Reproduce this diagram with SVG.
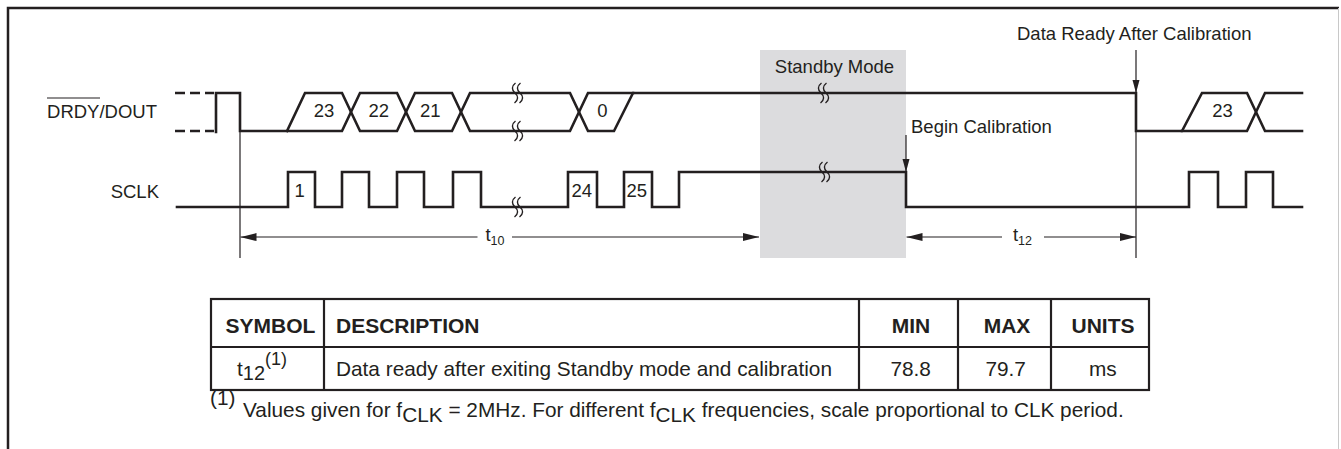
<svg xmlns="http://www.w3.org/2000/svg" width="1341" height="449" viewBox="0 0 1341 449">
<style>
.w{fill:none;stroke:#231f20;stroke-width:2.6;stroke-linejoin:miter;stroke-linecap:square}
.dash{fill:none;stroke:#231f20;stroke-width:2.6;stroke-dasharray:10 5}
.thin{fill:none;stroke:#231f20;stroke-width:1.2}
.brk{fill:none;stroke:#231f20;stroke-width:1.4}
.tx{font-family:"Liberation Sans",Arial,sans-serif;font-size:18.5px;fill:#231f20}
.tt{font-family:"Liberation Sans",Arial,sans-serif;font-size:20.8px;fill:#231f20}
.th{font-family:"Liberation Sans",Arial,sans-serif;font-size:21px;font-weight:bold;fill:#231f20}
.grid{fill:none;stroke:#231f20;stroke-width:2.2}
.mid{text-anchor:middle}
.end{text-anchor:end}
</style>
<defs>
<marker id="ah" markerUnits="userSpaceOnUse" markerWidth="16" markerHeight="8" viewBox="0 0 16 8" refX="16" refY="4" orient="auto-start-reverse">
<path d="M0,0 L16,4 L0,8 z" fill="#231f20"/>
</marker>
<marker id="av" markerUnits="userSpaceOnUse" markerWidth="13" markerHeight="8" viewBox="0 0 13 8" refX="13" refY="4" orient="auto">
<path d="M0,0.5 L13,4 L0,7.5 z" fill="#231f20"/>
</marker>
<g id="brkS">
<path class="brk" d="M0.5,-10 C-3.5,-7 -3.5,-3 0,0 C3.5,3 3.5,7 -0.5,10"/>
<path class="brk" d="M5.5,-10 C1.5,-7 1.5,-3 5,0 C8.5,3 8.5,7 4.5,10"/>
</g>
</defs>
<rect width="1341" height="449" fill="#ffffff"/>
<g id="frame">
<path d="M8,449 V8 H1339" fill="none" stroke="#231f20" stroke-width="2.5"/>
<line x1="1338.5" y1="8" x2="1338.5" y2="449" stroke="#c8c8c8" stroke-width="1"/>
</g>
<g id="standby">
<rect x="760" y="50" width="146" height="208" fill="#dcdcde"/>
<text class="tx mid" x="834.5" y="73">Standby Mode</text>
</g>
<g id="signal-labels">
<text class="tx end" x="157" y="117.5">DRDY/DOUT</text>
<line x1="47" y1="98" x2="100" y2="98" stroke="#231f20" stroke-width="1.2"/>
<text class="tx end" x="159" y="198">SCLK</text>
</g>
<g id="signal-drdy">
<path class="dash" d="M175,93 H214"/>
<path class="dash" d="M175,131 H214"/>
<path class="w" d="M216,132 V93 H240 V131 H342 L360,93 H397 L415,131 H452 L470,93 H570 L588,131 H614 L633,93 H1136 V131 H1182 L1202,93 H1247 L1265,131 H1302"/>
<path class="w" d="M287,131 L305,93 H342 L360,131 H397 L415,93 H452 L470,131 H570 L588,93 H633"/>
<path class="w" d="M1182,131 H1247 L1265,93 H1302"/>
<use href="#brkS" x="515" y="93"/>
<use href="#brkS" x="515" y="131"/>
<use href="#brkS" x="821" y="93"/>
<text class="tx mid" x="324" y="117">23</text>
<text class="tx mid" x="378.7" y="117">22</text>
<text class="tx mid" x="430.3" y="117">21</text>
<text class="tx mid" x="602.5" y="117">0</text>
<text class="tx mid" x="1222.5" y="117">23</text>
</g>
<g id="signal-sclk">
<path class="w" d="M177,207 H288 V172 H315 V207 H342 V172 H369 V207 H397 V172 H424 V207 H453 V172 H481 V207 H568 V172 H597 V207 H624 V172 H652 V207 H679 V172 H906 V207 H1189 V172 H1218 V207 H1246 V172 H1273 V207 H1302"/>
<use href="#brkS" x="515" y="207"/>
<use href="#brkS" x="822" y="172"/>
<text class="tx" x="294.5" y="197">1</text>
<text class="tx" x="571.5" y="197">24</text>
<text class="tx" x="626.5" y="197">25</text>
</g>
<g id="connectors">
<line class="thin" x1="240" y1="131" x2="240" y2="258"/>
<line class="thin" x1="1136" y1="131" x2="1136" y2="258"/>
<line class="thin" x1="1136" y1="50" x2="1136" y2="93" marker-end="url(#av)"/>
<line class="thin" x1="906" y1="135" x2="906" y2="172" marker-end="url(#av)"/>
<line class="thin" x1="477.5" y1="237" x2="240.5" y2="237" marker-end="url(#ah)"/>
<line class="thin" x1="512" y1="237" x2="759" y2="237" marker-end="url(#ah)"/>
<line class="thin" x1="1002" y1="237" x2="906.5" y2="237" marker-end="url(#ah)"/>
<line class="thin" x1="1044" y1="237" x2="1136" y2="237" marker-end="url(#ah)"/>
</g>
<g id="annotations">
<text class="tx" x="1017" y="40">Data Ready After Calibration</text>
<text class="tx" x="911" y="133">Begin Calibration</text>
<text class="tx mid" x="495" y="241">t<tspan font-size="12.5" dy="4">10</tspan></text>
<text class="tx mid" x="1022.5" y="241">t<tspan font-size="12.5" dy="4">12</tspan></text>
</g>
<g id="table">
<rect class="grid" x="211" y="299" width="938" height="91"/>
<line class="grid" x1="211" y1="347" x2="1149" y2="347"/>
<line class="grid" x1="324" y1="299" x2="324" y2="390"/>
<line class="grid" x1="859" y1="299" x2="859" y2="390"/>
<line class="grid" x1="958" y1="299" x2="958" y2="390"/>
<line class="grid" x1="1051" y1="299" x2="1051" y2="390"/>
<text class="th mid" x="270.5" y="333">SYMBOL</text>
<text class="th" x="336" y="333">DESCRIPTION</text>
<text class="th mid" x="911" y="333">MIN</text>
<text class="th mid" x="1007" y="333">MAX</text>
<text class="th mid" x="1103" y="333">UNITS</text>
<text class="tt" x="237" y="375.5">t<tspan font-size="20" dy="4">12</tspan><tspan font-size="18" dy="-15">(1)</tspan></text>
<text class="tt" x="336" y="375.5">Data ready after exiting Standby mode and calibration</text>
<text class="tt mid" x="910.7" y="375.5">78.8</text>
<text class="tt mid" x="1005.7" y="375.5">79.7</text>
<text class="tt mid" x="1102.8" y="375.5">ms</text>
</g>
<g id="footnote">
<text class="tt" x="210" y="405" font-size="18">(1)</text>
<text class="tt" x="243" y="416.7">Values given for f<tspan dy="5">CLK</tspan><tspan dy="-5"> = 2MHz. For different f</tspan><tspan dy="5">CLK</tspan><tspan dy="-5"> frequencies, scale proportional to CLK period.</tspan></text>
</g>
</svg>
